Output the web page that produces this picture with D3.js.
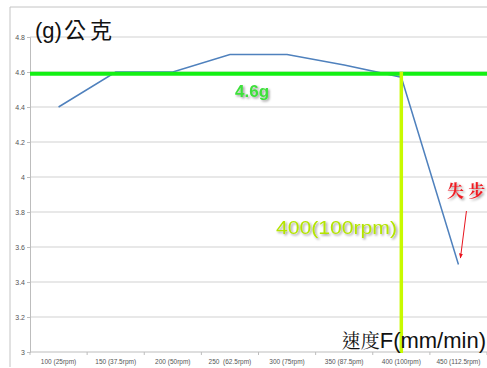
<!DOCTYPE html>
<html>
<head>
<meta charset="utf-8">
<script src="https://cdn.jsdelivr.net/npm/d3@7"></script>
<style>
  html, body { margin: 0; padding: 0; background: #fff; }
  svg { display: block; }
</style>
</head>
<body>
<svg id="chart" width="487" height="368"></svg>
<script>
// feed speed categories (mm/min with rpm) and measured weight in grams
const speeds = ['100 (25rpm)', '150 (37.5rpm)', '200 (50rpm)', '250  (62.5rpm)',
  '300 (75rpm)', '350 (87.5pm)', '400 (100rpm)', '450 (112.5rpm)'];
const weights = [4.4, 4.6, 4.6, 4.7, 4.7, 4.64, 4.57, 3.5];
const yTicks = [3, 3.2, 3.4, 3.6, 3.8, 4, 4.2, 4.4, 4.6, 4.8];
const refWeight = 4.59;
const refSpeed = '400 (100rpm)';
const stallSpeed = '450 (112.5rpm)';

const width = 487,
  height = 368,
  margin = { top: 37, right: 0, bottom: 16, left: 30 };

const svg = d3.select('#chart');

const x = d3.scaleBand()
  .domain(speeds)
  .range([margin.left, width - margin.right]);

const y = d3.scaleLinear()
  .domain([3, 4.8])
  .range([height - margin.bottom, margin.top]);

// soft drop shadow for the annotation text
const defs = svg.append('defs');
const shadow = defs.append('filter').attr('id', 'shadow')
  .attr('x', '-10%').attr('y', '-20%').attr('width', '130%').attr('height', '160%');
shadow.append('feDropShadow')
  .attr('dx', 1.5).attr('dy', 1.5).attr('stdDeviation', 1)
  .attr('flood-color', '#000').attr('flood-opacity', 0.4);

defs.append('marker').attr('id', 'arrow')
  .attr('viewBox', '0 0 10 10').attr('refX', 9).attr('refY', 5)
  .attr('markerWidth', 5).attr('markerHeight', 6).attr('orient', 'auto')
  .append('path').attr('d', 'M0,1 L10,5 L0,9 Z').attr('fill', '#e8141e');

// outer frame
svg.append('path')
  .attr('d', `M10,${height - 1} V7 H${width}`)
  .attr('fill', 'none')
  .attr('stroke', '#c4c4c4');

// gridlines
svg.append('g')
  .selectAll('line')
  .data(yTicks.slice(1))
  .join('line')
  .attr('x1', margin.left).attr('x2', width)
  .attr('y1', d => y(d)).attr('y2', d => y(d))
  .attr('stroke', '#d2d2d2')
  .attr('stroke-width', 1.2);

// y axis
const yAxis = svg.append('g')
  .attr('transform', `translate(${margin.left},0)`)
  .call(d3.axisLeft(y).tickValues(yTicks).tickFormat(d3.format('~g')).tickSize(3).tickPadding(2));
yAxis.select('.domain').attr('stroke', '#bdbdbd');
yAxis.selectAll('.tick line').attr('stroke', '#bdbdbd');
yAxis.selectAll('.tick text')
  .attr('fill', '#555')
  .style('font', '7px "Liberation Sans", Arial, sans-serif');

// x axis with ticks on band boundaries
const xAxisY = y(3);
svg.append('line')
  .attr('x1', margin.left).attr('x2', width)
  .attr('y1', xAxisY).attr('y2', xAxisY)
  .attr('stroke', '#bdbdbd');
svg.append('g')
  .selectAll('line')
  .data(speeds.concat(['end']))
  .join('line')
  .attr('x1', (d, i) => i < speeds.length ? x(d) : x(speeds[speeds.length - 1]) + x.bandwidth())
  .attr('x2', (d, i) => i < speeds.length ? x(d) : x(speeds[speeds.length - 1]) + x.bandwidth())
  .attr('y1', xAxisY).attr('y2', xAxisY + 3)
  .attr('stroke', '#bdbdbd');
svg.append('g')
  .selectAll('text')
  .data(speeds)
  .join('text')
  .attr('x', d => x(d) + x.bandwidth() / 2)
  .attr('y', xAxisY + 12)
  .attr('text-anchor', 'middle')
  .attr('fill', '#555')
  .style('font', '6.5px "Liberation Sans", Arial, sans-serif')
  .style('white-space', 'pre')
  .text(d => d);

// data line
const line = d3.line()
  .x((d, i) => x(speeds[i]) + x.bandwidth() / 2)
  .y(d => y(d));

svg.append('path')
  .datum(weights)
  .attr('d', line)
  .attr('fill', 'none')
  .attr('stroke', '#4f81bd')
  .attr('stroke-width', 1.5);

// reference lines
svg.append('line')
  .attr('x1', margin.left).attr('x2', width)
  .attr('y1', y(refWeight)).attr('y2', y(refWeight))
  .attr('stroke', '#14f014')
  .attr('stroke-width', 4);

const refX = x(refSpeed) + x.bandwidth() / 2;
svg.append('line')
  .attr('x1', refX).attr('x2', refX)
  .attr('y1', y(refWeight) - 2).attr('y2', xAxisY + 1)
  .attr('stroke', '#c8fa00')
  .attr('stroke-width', 3.5);

// annotations
svg.append('text')
  .attr('x', 235).attr('y', 97)
  .attr('fill', '#3ee03a')
  .attr('filter', 'url(#shadow)')
  .style('font', 'bold 17px "Liberation Sans", Arial, sans-serif')
  .text('4.6g');

svg.append('text')
  .attr('x', 276).attr('y', 234)
  .attr('textLength', 121)
  .attr('lengthAdjust', 'spacingAndGlyphs')
  .attr('fill', '#b4e400')
  .attr('filter', 'url(#shadow)')
  .style('font', '19px "Liberation Sans", Arial, sans-serif')
  .text('400(100rpm)');

svg.append('text')
  .attr('x', 447).attr('y', 197)
  .attr('fill', '#ee1c24')
  .attr('filter', 'url(#shadow)')
  .style('font', 'bold 17px "Noto Serif CJK TC", "Noto Sans CJK TC", serif')
  .style('white-space', 'pre')
  .text('失 步');

const stallX = x(stallSpeed) + x.bandwidth() / 2;
svg.append('line')
  .attr('x1', stallX + 8).attr('y1', 211)
  .attr('x2', stallX + 2).attr('y2', 258)
  .attr('stroke', '#e8141e')
  .attr('stroke-width', 1)
  .attr('marker-end', 'url(#arrow)');

// axis titles
const yTitle = svg.append('text')
  .attr('x', 35).attr('y', 38)
  .attr('fill', '#111')
  .style('font', '22px "Liberation Sans", Arial, "Noto Sans CJK TC", sans-serif');
yTitle.append('tspan').text('(g)');
yTitle.append('tspan')
  .attr('dx', 2)
  .style('letter-spacing', '4px')
  .text('公克');

const xTitle = svg.append('text')
  .attr('x', width - 1).attr('y', 348)
  .attr('text-anchor', 'end')
  .attr('fill', '#111');
xTitle.append('tspan')
  .style('font', '19px "Noto Serif CJK TC", "Noto Sans CJK TC", serif')
  .text('速度');
xTitle.append('tspan')
  .style('font', '22px "Liberation Sans", Arial, sans-serif')
  .text('F(mm/min)');
</script>
</body>
</html>
